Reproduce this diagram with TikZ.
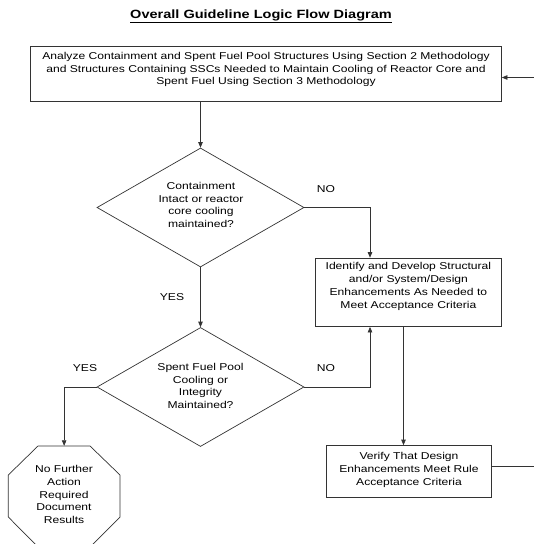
\documentclass[tikz,border=0pt]{standalone}
\usepackage{fontspec}
\setmainfont{Liberation Sans}[FakeStretch=1.215]
\usetikzlibrary{arrows.meta,shapes.geometric}
\begin{document}
\begin{tikzpicture}[x=1bp,y=-1bp,
  ln/.style={draw=black!80, line width=0.7bp},
  arr/.style={ln, -{Triangle[length=5.5bp,width=4.5bp]}},
  box/.style={ln, rectangle, inner sep=0pt},
  dia/.style={ln, diamond, inner sep=0pt, minimum width=207bp, minimum height=119bp},
  txt/.style={align=center, font=\fontsize{10}{12.9}\selectfont, inner sep=0pt},
  lbl/.style={font=\fontsize{10}{12}\selectfont, inner sep=0pt}]
\useasboundingbox (0,0) rectangle (534,544);
\clip (0,0) rectangle (534,544);

% title
\node[inner sep=0pt, font=\fontsize{12}{14}\selectfont\bfseries] (title) at (261,16)
  {\underline{Overall Guideline Logic Flow Diagram}};

% top box
\node[box, minimum width=471bp, minimum height=55.5bp] (top) at (266,73.75) {};
\node[txt] (toptxt) at (266,69.5) {Analyze Containment and Spent Fuel Pool Structures Using Section 2 Methodology\\
and Structures Containing SSCs Needed to Maintain Cooling of Reactor Core and\\
Spent Fuel Using Section 3 Methodology};

% diamond 1
\node[dia] (d1) at (200.5,207.5) {};
\node[txt] (d1txt) at (201,205) {Containment\\Intact or reactor\\core cooling\\maintained?};

% box 2
\node[box, minimum width=185.7bp, minimum height=68.5bp] (b2) at (408.4,292.3) {};
\node[txt] (b2txt) at (408.4,286.4) {Identify and Develop Structural\\and/or System/Design\\Enhancements As Needed to\\Meet Acceptance Criteria};

% diamond 2
\node[dia] (d2) at (200.5,387) {};
\node[txt] (d2txt) at (200.5,386) {Spent Fuel Pool\\Cooling or\\Integrity\\Maintained?};

% box 3
\node[box, minimum width=165.5bp, minimum height=51.5bp] (b3) at (408.75,471.25) {};
\node[txt] (b3txt) at (409,469.7) {Verify That Design\\Enhancements Meet Rule\\Acceptance Criteria};

% octagon (outline drawn around an invisible frame node)
\node[inner sep=0pt, minimum width=111.7bp, minimum height=101bp] (oct) at (64.15,496.5) {};
\draw[ln] (38,446) -- (90,446) -- (120,475) -- (120,517) -- (90,547) -- (38,547) -- (8.3,517) -- (8.3,475) -- cycle;
\node[txt] (octtxt) at (64,494.5) {No Further\\Action\\Required\\Document\\Results};

% labels
\node[lbl] (no1) at (326,189) {NO};
\node[lbl] (yes1) at (172,297.5) {YES};
\node[lbl] (yes2) at (85,368) {YES};
\node[lbl] (no2) at (326,368) {NO};

% connectors
\coordinate (rin) at (534,77.5);
\coordinate (rout) at (534,466);
\draw[arr] (rin) -- (rin -| top.east);
\draw[arr] (top.south -| d1.north) -- (d1.north);
\draw[arr] (d1.east) -| (370,0 |- b2.north);
\draw[arr] (d1.south) -- (d2.north);
\draw[arr] (d2.west) -| (oct.north);
\draw[arr] (d2.east) -| (370,0 |- b2.south);
\draw[arr] (403.5,0 |- b2.south) -- (403.5,0 |- b3.north);
\draw[ln] (rout -| b3.east) -- (rout);
\end{tikzpicture}
\end{document}
